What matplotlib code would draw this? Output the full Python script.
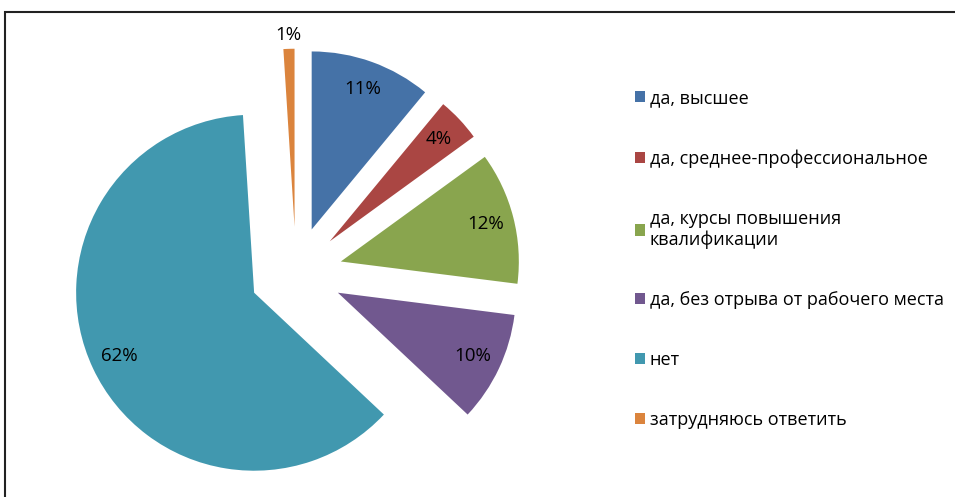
import matplotlib.pyplot as plt
from matplotlib.patches import Rectangle
import numpy as np

plt.rcParams['font.family'] = ['Open Sans', 'DejaVu Sans']

labels = ['да, высшее', 'да, среднее-профессиональное',
          'да, курсы повышения\nквалификации',
          'да, без отрыва от рабочего места', 'нет',
          'затрудняюсь ответить']
values = [11, 4, 12, 10, 62, 1]
colors = ['#4572A7', '#AA4643', '#89A54E', '#71588F', '#4198AF', '#DB843D']

W, H = 955, 497
fig = plt.figure(figsize=(W / 100, H / 100), dpi=100)
ax = fig.add_axes([0, 0, 1, 1])

# pie centre and radius in pixels
cx, cy, r = 296, H - 273, 178

wedges, texts, autotexts = ax.pie(
    values, colors=colors, startangle=90, counterclock=False,
    explode=[0.26] * len(values), radius=1, pctdistance=0.84,
    autopct='%1.0f%%', textprops={'fontsize': 13.5, 'color': 'black'},
    wedgeprops={'linewidth': 0})

# the tiny slice gets its label outside
w = wedges[-1]
tm = np.deg2rad((w.theta1 + w.theta2) / 2)
autotexts[-1].set_position((w.center[0] + 1.08 * np.cos(tm),
                            w.center[1] + 1.08 * np.sin(tm)))

ax.set_xlim(-cx / r, (W - cx) / r)
ax.set_ylim(-cy / r, (H - cy) / r)
ax.set_aspect('auto')
ax.axis('off')

ax.legend(wedges, labels, loc='upper left', frameon=False,
          bbox_to_anchor=(635 / W, 1 - 89 / H), bbox_transform=fig.transFigure,
          fontsize=13, handlelength=0.57, handleheight=0.57, handletextpad=0.26,
          labelspacing=2.33, borderpad=0, borderaxespad=0)

fig.patches.append(Rectangle((5 / W, -0.1), 1.2, 1.1 - 12 / H,
                             transform=fig.transFigure, fill=False,
                             edgecolor='#222222', linewidth=1.5))

plt.savefig('out.png', dpi=100)
